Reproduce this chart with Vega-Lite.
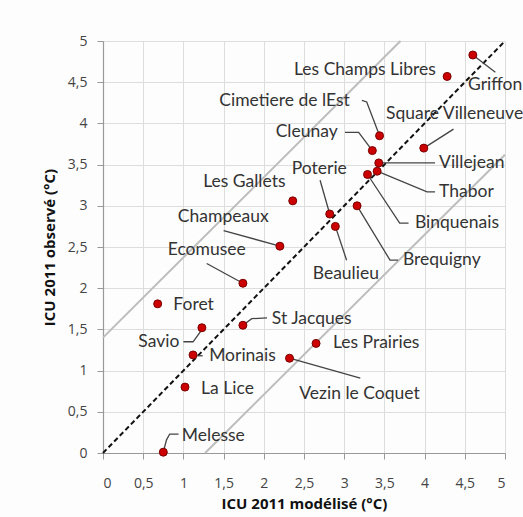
{
  "$schema": "https://vega.github.io/schema/vega-lite/v6.json",
  "width": 402,
  "height": 412,
  "autosize": {"type": "none"},
  "padding": {"left": 103, "top": 41, "right": 18, "bottom": 64},
  "background": "#fdfdfd",
  "config": {
    "view": {"stroke": null},
    "axis": {
      "grid": true,
      "gridColor": "#dddddd",
      "gridWidth": 1,
      "domainColor": "#999999",
      "domainWidth": 1.2,
      "tickColor": "#999999",
      "tickSize": 6,
      "labelFont": "Open Sans",
      "labelFontSize": 14,
      "labelColor": "#444444",
      "titleFont": "Open Sans",
      "titleFontSize": 15,
      "titleFontWeight": "bold",
      "titleColor": "#111111"
    }
  },
  "datasets": {
    "pts": [
      {"name": "Griffon", "x": 4.60, "y": 4.83, "lx": 4.54, "ly": 4.46},
      {"name": "Les Champs Libres", "x": 4.28, "y": 4.57, "lx": 4.14, "ly": 4.65},
      {"name": "Cimetiere de lEst", "x": 3.44, "y": 3.85, "lx": 3.07, "ly": 4.27},
      {"name": "Square Villeneuve", "x": 3.99, "y": 3.70, "lx": 3.52, "ly": 4.11},
      {"name": "Cleunay", "x": 3.35, "y": 3.67, "lx": 2.92, "ly": 3.89},
      {"name": "Villejean", "x": 3.43, "y": 3.52, "lx": 4.18, "ly": 3.52},
      {"name": "Thabor", "x": 3.41, "y": 3.42, "lx": 4.18, "ly": 3.17},
      {"name": "Binquenais", "x": 3.29, "y": 3.38, "lx": 3.88, "ly": 2.79},
      {"name": "Brequigny", "x": 3.16, "y": 3.00, "lx": 3.73, "ly": 2.34},
      {"name": "Poterie", "x": 2.82, "y": 2.90, "lx": 2.69, "ly": 3.45},
      {"name": "Beaulieu", "x": 2.89, "y": 2.75, "lx": 3.02, "ly": 2.17},
      {"name": "Les Gallets", "x": 2.36, "y": 3.06, "lx": 2.27, "ly": 3.29},
      {"name": "Champeaux", "x": 2.20, "y": 2.51, "lx": 2.06, "ly": 2.86},
      {"name": "Ecomusee", "x": 1.74, "y": 2.06, "lx": 1.29, "ly": 2.46},
      {"name": "Foret", "x": 0.68, "y": 1.81, "lx": 0.875, "ly": 1.80},
      {"name": "St Jacques", "x": 1.74, "y": 1.55, "lx": 2.10, "ly": 1.63},
      {"name": "Savio", "x": 1.23, "y": 1.52, "lx": 0.95, "ly": 1.35},
      {"name": "Morinais", "x": 1.12, "y": 1.19, "lx": 1.32, "ly": 1.18},
      {"name": "La Lice", "x": 1.02, "y": 0.80, "lx": 1.22, "ly": 0.78},
      {"name": "Melesse", "x": 0.75, "y": 0.01, "lx": 0.98, "ly": 0.21},
      {"name": "Les Prairies", "x": 2.65, "y": 1.33, "lx": 2.86, "ly": 1.33},
      {"name": "Vezin le Coquet", "x": 2.32, "y": 1.15, "lx": 3.19, "ly": 0.72}
    ],
    "leaders": [
      {"name": "Griffon", "ord": 0, "x": 4.60, "y": 4.83},
      {"name": "Griffon", "ord": 1, "x": 4.88, "y": 4.62},
      {"name": "Cimetiere de lEst", "ord": 0, "x": 3.22, "y": 4.28},
      {"name": "Cimetiere de lEst", "ord": 1, "x": 3.28, "y": 4.26},
      {"name": "Cimetiere de lEst", "ord": 2, "x": 3.44, "y": 3.85},
      {"name": "Cleunay", "ord": 0, "x": 3.01, "y": 3.89},
      {"name": "Cleunay", "ord": 1, "x": 3.18, "y": 3.89},
      {"name": "Cleunay", "ord": 2, "x": 3.35, "y": 3.67},
      {"name": "Square Villeneuve", "ord": 0, "x": 3.99, "y": 3.70},
      {"name": "Square Villeneuve", "ord": 1, "x": 4.36, "y": 3.93},
      {"name": "Villejean", "ord": 0, "x": 3.43, "y": 3.52},
      {"name": "Villejean", "ord": 1, "x": 4.13, "y": 3.52},
      {"name": "Thabor", "ord": 0, "x": 3.41, "y": 3.42},
      {"name": "Thabor", "ord": 1, "x": 4.03, "y": 3.17},
      {"name": "Thabor", "ord": 2, "x": 4.13, "y": 3.17},
      {"name": "Binquenais", "ord": 0, "x": 3.29, "y": 3.38},
      {"name": "Binquenais", "ord": 1, "x": 3.69, "y": 2.79},
      {"name": "Binquenais", "ord": 2, "x": 3.80, "y": 2.79},
      {"name": "Brequigny", "ord": 0, "x": 3.16, "y": 3.00},
      {"name": "Brequigny", "ord": 1, "x": 3.57, "y": 2.34},
      {"name": "Brequigny", "ord": 2, "x": 3.67, "y": 2.34},
      {"name": "Beaulieu", "ord": 0, "x": 2.89, "y": 2.75},
      {"name": "Beaulieu", "ord": 1, "x": 3.03, "y": 2.34},
      {"name": "Poterie", "ord": 0, "x": 2.70, "y": 3.31},
      {"name": "Poterie", "ord": 1, "x": 2.82, "y": 2.90},
      {"name": "Champeaux", "ord": 0, "x": 1.50, "y": 2.70},
      {"name": "Champeaux", "ord": 1, "x": 2.20, "y": 2.51},
      {"name": "Ecomusee", "ord": 0, "x": 1.29, "y": 2.30},
      {"name": "Ecomusee", "ord": 1, "x": 1.74, "y": 2.06},
      {"name": "St Jacques", "ord": 0, "x": 1.74, "y": 1.55},
      {"name": "St Jacques", "ord": 1, "x": 1.85, "y": 1.63},
      {"name": "St Jacques", "ord": 2, "x": 2.04, "y": 1.64},
      {"name": "Savio", "ord": 0, "x": 1.00, "y": 1.35},
      {"name": "Savio", "ord": 1, "x": 1.12, "y": 1.35},
      {"name": "Savio", "ord": 2, "x": 1.21, "y": 1.47},
      {"name": "Savio", "ord": 3, "x": 1.23, "y": 1.52},
      {"name": "Morinais", "ord": 0, "x": 1.16, "y": 1.18},
      {"name": "Morinais", "ord": 1, "x": 1.24, "y": 1.18},
      {"name": "Melesse", "ord": 0, "x": 0.75, "y": 0.01},
      {"name": "Melesse", "ord": 1, "x": 0.79, "y": 0.16},
      {"name": "Melesse", "ord": 2, "x": 0.83, "y": 0.23},
      {"name": "Melesse", "ord": 3, "x": 0.94, "y": 0.23},
      {"name": "Vezin le Coquet", "ord": 0, "x": 2.32, "y": 1.15},
      {"name": "Vezin le Coquet", "ord": 1, "x": 3.20, "y": 0.91}
    ],
    "env": [
      {"grp": "upper", "x": 0, "y": 1.4},
      {"grp": "upper", "x": 3.7, "y": 5},
      {"grp": "lower", "x": 1.27, "y": 0},
      {"grp": "lower", "x": 5, "y": 3.62}
    ],
    "diag": [
      {"x": 0, "y": 0},
      {"x": 5, "y": 5}
    ]
  },
  "layer": [
    {
      "data": {"name": "env"},
      "mark": {"type": "line", "color": "#bdbdbd", "strokeWidth": 2},
      "encoding": {
        "x": {"field": "x", "type": "quantitative", "title": "ICU 2011 modélisé (°C)",
              "scale": {"domain": [0, 5], "nice": false},
              "axis": {"values": [0,0.5,1,1.5,2,2.5,3,3.5,4,4.5,5], "labelExpr": "replace(format(datum.value, '~g'), '.', ',')", "labelPadding": 17, "titlePadding": 6}},
        "y": {"field": "y", "type": "quantitative", "title": "ICU 2011 observé (°C)",
              "scale": {"domain": [0, 5], "nice": false},
              "axis": {"values": [0,0.5,1,1.5,2,2.5,3,3.5,4,4.5,5], "labelExpr": "replace(format(datum.value, '~g'), '.', ',')", "labelPadding": 10, "titlePadding": 10}},
        "detail": {"field": "grp"}
      }
    },
    {
      "data": {"name": "diag"},
      "mark": {"type": "line", "color": "#111111", "strokeWidth": 2, "strokeDash": [5, 3]},
      "encoding": {
        "x": {"field": "x", "type": "quantitative", "title": "ICU 2011 modélisé (°C)"},
        "y": {"field": "y", "type": "quantitative", "title": "ICU 2011 observé (°C)"}
      }
    },
    {
      "data": {"name": "leaders"},
      "mark": {"type": "line", "color": "#444444", "strokeWidth": 1.3},
      "encoding": {
        "x": {"field": "x", "type": "quantitative", "title": "ICU 2011 modélisé (°C)"},
        "y": {"field": "y", "type": "quantitative", "title": "ICU 2011 observé (°C)"},
        "detail": {"field": "name"},
        "order": {"field": "ord"}
      }
    },
    {
      "data": {"name": "pts"},
      "mark": {"type": "circle", "size": 64, "color": "#cc0000", "stroke": "#7a0000", "strokeWidth": 1, "opacity": 1},
      "encoding": {
        "x": {"field": "x", "type": "quantitative", "title": "ICU 2011 modélisé (°C)"},
        "y": {"field": "y", "type": "quantitative", "title": "ICU 2011 observé (°C)"}
      }
    },
    {
      "data": {"name": "pts"},
      "transform": [{"filter": {"field": "name", "oneOf": ["Les Champs Libres", "Cimetiere de lEst", "Cleunay", "Les Gallets", "Champeaux", "Savio"]}}],
      "mark": {"type": "text", "align": "right", "baseline": "middle", "font": "Lato", "fontSize": 17.5, "color": "#333333"},
      "encoding": {
        "x": {"field": "lx", "type": "quantitative", "title": "ICU 2011 modélisé (°C)"},
        "y": {"field": "ly", "type": "quantitative", "title": "ICU 2011 observé (°C)"},
        "text": {"field": "name"}
      }
    },
    {
      "data": {"name": "pts"},
      "transform": [{"filter": {"field": "name", "oneOf": ["Griffon", "Square Villeneuve", "Villejean", "Thabor", "Binquenais", "Brequigny", "Foret", "St Jacques", "Morinais", "La Lice", "Melesse", "Les Prairies"]}}],
      "mark": {"type": "text", "align": "left", "baseline": "middle", "font": "Lato", "fontSize": 17.5, "color": "#333333"},
      "encoding": {
        "x": {"field": "lx", "type": "quantitative", "title": "ICU 2011 modélisé (°C)"},
        "y": {"field": "ly", "type": "quantitative", "title": "ICU 2011 observé (°C)"},
        "text": {"field": "name"}
      }
    },
    {
      "data": {"name": "pts"},
      "transform": [{"filter": {"field": "name", "oneOf": ["Poterie", "Beaulieu", "Ecomusee", "Vezin le Coquet"]}}],
      "mark": {"type": "text", "align": "center", "baseline": "middle", "font": "Lato", "fontSize": 17.5, "color": "#333333"},
      "encoding": {
        "x": {"field": "lx", "type": "quantitative", "title": "ICU 2011 modélisé (°C)"},
        "y": {"field": "ly", "type": "quantitative", "title": "ICU 2011 observé (°C)"},
        "text": {"field": "name"}
      }
    }
  ]
}
